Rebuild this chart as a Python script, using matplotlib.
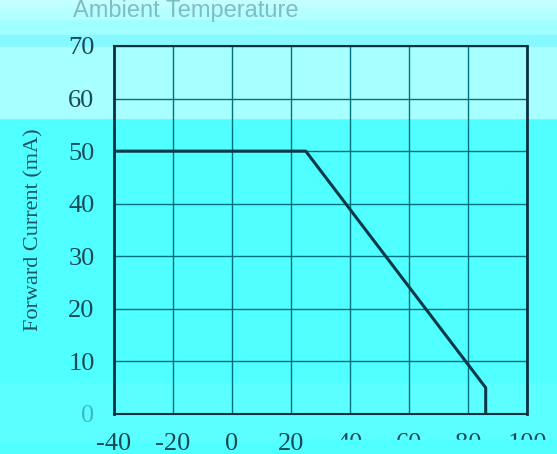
import matplotlib.pyplot as plt
from matplotlib.patches import Rectangle

plt.rcParams['axes.unicode_minus'] = False

temp = [-40, 25, 86, 86]
current = [50, 50, 5, 0]
xticks = [-40, -20, 0, 20, 40, 60, 80, 100]
yticks = [0, 10, 20, 30, 40, 50, 60, 70]

W, H = 557, 454
fig = plt.figure(figsize=(W / 100, H / 100), dpi=100)
fig.patch.set_facecolor('#50ffff')

# background bands (pixel rows from the top)
bands = [(0, 8, '#c4ffff'), (8, 20, '#b4ffff'), (20, 35, '#a0ffff'),
         (35, 47, '#86f8ff'), (47, 118, '#a8ffff'), (383, 440, '#5cffff')]
for y0, y1, c in bands:
    fig.patches.append(Rectangle((0, 1 - y1 / H), 1, (y1 - y0) / H,
                                 transform=fig.transFigure, color=c, zorder=-5))

ax = fig.add_axes([114 / W, 40 / H, 413 / W, 368 / H])
ax.set_facecolor('none')
ax.plot(temp, current, color='#0a3a48', lw=2.2, zorder=3)
ax.set_xlim(-40, 100)
ax.set_ylim(0, 70)
ax.set_xticks(xticks)
ax.set_yticks(yticks)
ax.grid(True, color='#00707f', lw=1.0)
ax.tick_params(length=0, labelsize=19, labelcolor='#1a4a58')
ax.tick_params(axis='y', pad=14)
ax.tick_params(axis='x', pad=14)
for lab in ax.get_xticklabels() + ax.get_yticklabels():
    lab.set_family('Liberation Serif')
ax.get_yticklabels()[0].set_color('#3cb8c8')
for side, sp in ax.spines.items():
    sp.set_color('#0a3040')
    sp.set_linewidth(2.0 if side in ('left', 'right') else 1.5)

ax.set_ylabel('Forward Current (mA)', family='Liberation Serif', fontsize=16,
              color='#1a5464', labelpad=18)
fig.text(73 / W, 1 - 11 / H, 'Ambient Temperature', fontsize=17,
         family='Liberation Sans', color='#80bcc4', va='center', ha='left')

# glitched strip hiding the lower part of the right tick labels
fig.artists.append(Rectangle((306 / W, 0), 1, 14 / H, transform=fig.transFigure,
                             color='#50ffff', zorder=10))

fig.savefig('out.png', dpi=100, facecolor=fig.get_facecolor())
